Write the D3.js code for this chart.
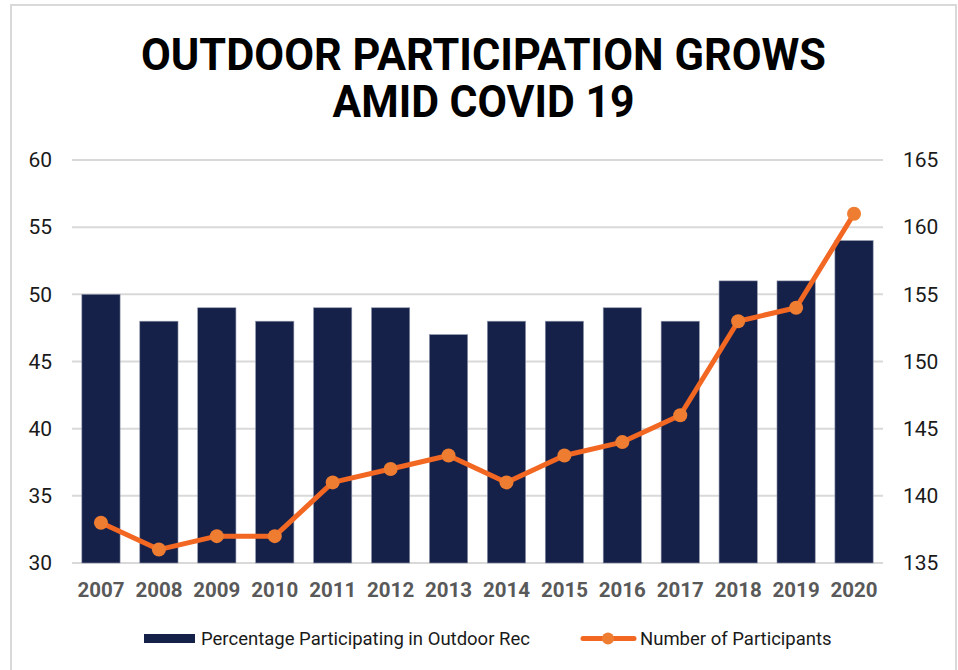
<!DOCTYPE html>
<html>
<head>
<meta charset="utf-8">
<script src="https://cdn.jsdelivr.net/npm/d3@7"></script>
<style>
  html, body { margin: 0; padding: 0; background: #fff; }
  svg { display: block; }
</style>
</head>
<body>
<svg id="chart" width="958" height="670"></svg>
<script>
// Survey years and the two measured series
const years = ["2007","2008","2009","2010","2011","2012","2013","2014","2015","2016","2017","2018","2019","2020"];
const percentParticipating = [50, 48, 49, 48, 49, 49, 47, 48, 48, 49, 48, 51, 51, 54];
const participantsMillions = [138, 136, 137, 137, 141, 142, 143, 141, 143, 144, 146, 153, 154, 161];
const leftTicks = [30, 35, 40, 45, 50, 55, 60];
const rightTicks = [135, 140, 145, 150, 155, 160, 165];
const titleLines = ["OUTDOOR PARTICIPATION GROWS", "AMID COVID 19"];
const legendLabels = ["Percentage Participating in Outdoor Rec", "Number of Participants"];

const svg = d3.select("#chart");
const W = 958, H = 670;
const plot = { left: 72, right: 883, top: 160, bottom: 563 };

const barColor = "#16214a";
const lineColor = "#f26722";
const markerColor = "#ee7d31";
const gridColor = "#d9d9d9";

// Outer frame
svg.append("path")
  .attr("d", `M11,${H + 5} V5 H956 V${H + 5}`)
  .attr("fill", "none")
  .attr("stroke", gridColor)
  .attr("stroke-width", 2);

// Title
const title = svg.append("g").attr("font-family", "Roboto, sans-serif")
  .attr("font-weight", 700).attr("fill", "#000").attr("text-anchor", "middle");
title.append("text").attr("x", 483.5).attr("y", 70).attr("font-size", 44)
  .attr("textLength", 685).attr("lengthAdjust", "spacingAndGlyphs").text(titleLines[0]);
title.append("text").attr("x", 483.5).attr("y", 117).attr("font-size", 44)
  .attr("textLength", 302).attr("lengthAdjust", "spacingAndGlyphs").text(titleLines[1]);

// Scales
const x = d3.scaleBand().domain(years).range([plot.left, plot.right]).paddingInner(0.34).paddingOuter(0.17);
const yL = d3.scaleLinear().domain([30, 60]).range([plot.bottom, plot.top]);
const yR = d3.scaleLinear().domain([135, 165]).range([plot.bottom, plot.top]);

// Gridlines
svg.append("g").selectAll("line").data(leftTicks).join("line")
  .attr("x1", plot.left).attr("x2", plot.right)
  .attr("y1", d => yL(d)).attr("y2", d => yL(d))
  .attr("stroke", gridColor).attr("stroke-width", 2);

// Left axis
const leftAxis = svg.append("g").attr("transform", `translate(${plot.left},0)`)
  .call(d3.axisLeft(yL).tickValues(leftTicks).tickSize(0).tickPadding(20));
leftAxis.select(".domain").remove();
leftAxis.selectAll("text").attr("font-family", "Roboto, sans-serif").attr("font-size", 21)
  .attr("fill", "#1a1a1a");

// Right axis
const rightAxis = svg.append("g").attr("transform", `translate(${plot.right},0)`)
  .call(d3.axisRight(yR).tickValues(rightTicks).tickSize(0).tickPadding(20));
rightAxis.select(".domain").remove();
rightAxis.selectAll("text").attr("font-family", "Roboto, sans-serif").attr("font-size", 21)
  .attr("fill", "#1a1a1a");

// Bars
svg.append("g").selectAll("rect").data(years).join("rect")
  .attr("x", d => x(d))
  .attr("y", (d, i) => yL(percentParticipating[i]))
  .attr("width", x.bandwidth())
  .attr("height", (d, i) => yL(30) - yL(percentParticipating[i]))
  .attr("fill", barColor)
  .attr("stroke", "#8d93a8").attr("stroke-width", 0.6);

// Category axis
const bottomAxis = svg.append("g").attr("transform", `translate(0,${plot.bottom})`)
  .call(d3.axisBottom(x).tickSize(0).tickPadding(19));
bottomAxis.select(".domain").remove();
bottomAxis.selectAll("text").attr("font-family", "Roboto, sans-serif").attr("font-size", 20.5)
  .attr("font-weight", 700).attr("fill", "#595959");

// Participants line
const line = d3.line()
  .x((d, i) => x(years[i]) + x.bandwidth() / 2)
  .y(d => yR(d));
svg.append("path").datum(participantsMillions)
  .attr("d", line).attr("fill", "none")
  .attr("stroke", lineColor).attr("stroke-width", 5).attr("stroke-linejoin", "round");
svg.append("g").selectAll("circle").data(participantsMillions).join("circle")
  .attr("cx", (d, i) => x(years[i]) + x.bandwidth() / 2)
  .attr("cy", d => yR(d))
  .attr("r", 7)
  .attr("fill", markerColor);

// Legend
const legend = svg.append("g").attr("font-family", "Roboto, sans-serif").attr("font-size", 18.5).attr("fill", "#1a1a1a");
legend.append("rect").attr("x", 144).attr("y", 634).attr("width", 51).attr("height", 9).attr("fill", barColor);
legend.append("text").attr("x", 201).attr("y", 645).text(legendLabels[0]);
legend.append("line").attr("x1", 583).attr("x2", 634).attr("y1", 638.5).attr("y2", 638.5)
  .attr("stroke", lineColor).attr("stroke-width", 5).attr("stroke-linecap", "round");
legend.append("circle").attr("cx", 608).attr("cy", 638.5).attr("r", 6).attr("fill", markerColor);
legend.append("text").attr("x", 640).attr("y", 645).text(legendLabels[1]);
</script>
</body>
</html>
